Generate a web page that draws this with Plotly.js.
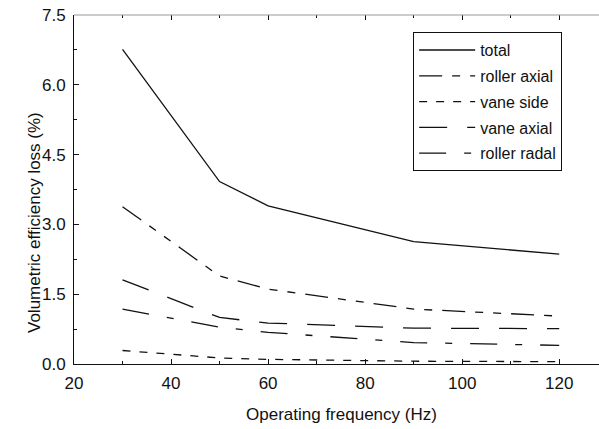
<!DOCTYPE html>
<html>
<head>
<meta charset="utf-8">
<script src="https://cdn.plot.ly/plotly-3.0.1.min.js"></script>
<style>
html,body{margin:0;padding:0;background:#fff;}
#chart{width:599px;height:429px;}
</style>
</head>
<body>
<div id="chart"></div>
<script>
// Data
var frequency = [30, 50, 60, 90, 120];
var totalLoss = [6.76, 3.92, 3.40, 2.63, 2.36];
var rollerAxial = [3.38, 1.89, 1.61, 1.18, 1.03];
var vaneSide = [0.29, 0.13, 0.10, 0.06, 0.05];
var vaneAxial = [1.81, 1.00, 0.88, 0.77, 0.76];
var rollerRadal = [1.18, 0.79, 0.68, 0.46, 0.40];
var seriesNames = ['total', 'roller axial', 'vane side', 'vane axial', 'roller radal'];

var FONT = 'Liberation Sans, Arial, Helvetica, sans-serif';
var INK = '#111';

function mk(name, y, dash, grp) {
  return {
    x: frequency, y: y, name: name, type: 'scatter', mode: 'lines',
    line: {color: INK, width: 1.3, dash: dash},
    legendgroup: grp
  };
}

var traces = [
  mk(seriesNames[0], totalLoss, 'solid', 'g1'),
  mk(seriesNames[1], rollerAxial, '23px,10px,8px,10px,8px,10px', 'g2'),
  mk(seriesNames[2], vaneSide, '8px,9px', 'g3'),
  mk(seriesNames[3], vaneAxial, '28px,20px', 'g4'),
  mk(seriesNames[4], rollerRadal, '27px,18px,7px,18px', 'g5'),
  {x: [20, 128.2], y: [0, 0], xaxis: 'x2', yaxis: 'y', mode: 'lines',
   line: {width: 0, color: 'rgba(0,0,0,0)'}, showlegend: false, hoverinfo: 'skip'}
];

var layout = {
  width: 599, height: 429,
  margin: {l: 74, r: 0, t: 15, b: 65},
  paper_bgcolor: '#fff', plot_bgcolor: '#fff',
  font: {family: FONT, size: 16, color: INK},
  showlegend: true,
  legend: {
    x: 0.646, y: 0.951, xanchor: 'left', yanchor: 'top',
    bordercolor: INK, borderwidth: 1, bgcolor: '#fff',
    font: {family: FONT, size: 16, color: INK},
    itemwidth: 56, traceorder: 'grouped', tracegroupgap: 2
  },
  xaxis: {
    range: [20, 128.2], tickvals: [20, 40, 60, 80, 100, 120],
    ticks: 'inside', ticklen: 5, tickcolor: INK, tickwidth: 1,
    showline: true, linecolor: INK, linewidth: 1,
    showgrid: false, zeroline: false,
    minor: {tickvals: [30, 50, 70, 90, 110], ticks: 'inside', ticklen: 3, tickcolor: INK},
    tickfont: {family: FONT, size: 17, color: INK},
    ticklabelstandoff: 4
  },
  xaxis2: {
    overlaying: 'x', side: 'top', anchor: 'y',
    range: [20, 128.2], tickvals: [20, 40, 60, 80, 100, 120],
    ticks: 'inside', ticklen: 5, tickcolor: INK,
    showticklabels: false, showline: false, showgrid: false, zeroline: false,
    minor: {tickvals: [30, 50, 70, 90, 110], ticks: 'inside', ticklen: 3, tickcolor: INK}
  },
  yaxis: {
    range: [0, 7.5], tickvals: [0, 1.5, 3.0, 4.5, 6.0, 7.5],
    ticktext: ['0.0', '1.5', '3.0', '4.5', '6.0', '7.5'],
    ticks: 'inside', ticklen: 5, tickcolor: INK, tickwidth: 1,
    showline: true, linecolor: INK, linewidth: 1,
    showgrid: false, zeroline: false,
    minor: {tickvals: [0.75, 2.25, 3.75, 5.25, 6.75], ticks: 'inside', ticklen: 3, tickcolor: INK},
    tickfont: {family: FONT, size: 17, color: INK},
    ticklabelstandoff: 4
  },
  shapes: [
    {type: 'line', xref: 'paper', yref: 'paper', x0: 0, x1: 1, y0: 1, y1: 1,
     line: {color: '#999', width: 1}}
  ],
  annotations: [
    {text: 'Operating frequency (Hz)', xref: 'paper', yref: 'paper',
     x: (341.5 - 74) / 525, y: -(414 - 364) / 349, xanchor: 'center', yanchor: 'middle',
     showarrow: false, font: {family: FONT, size: 17, color: INK}},
    {text: 'Volumetric efficiency loss (%)', xref: 'paper', yref: 'paper',
     x: -(74 - 35) / 525, y: (364 - 223) / 349, xanchor: 'center', yanchor: 'middle',
     textangle: -90, showarrow: false, font: {family: FONT, size: 17, color: INK}}
  ]
};

Plotly.newPlot('chart', traces, layout, {displayModeBar: false, staticPlot: true});
</script>
</body>
</html>
